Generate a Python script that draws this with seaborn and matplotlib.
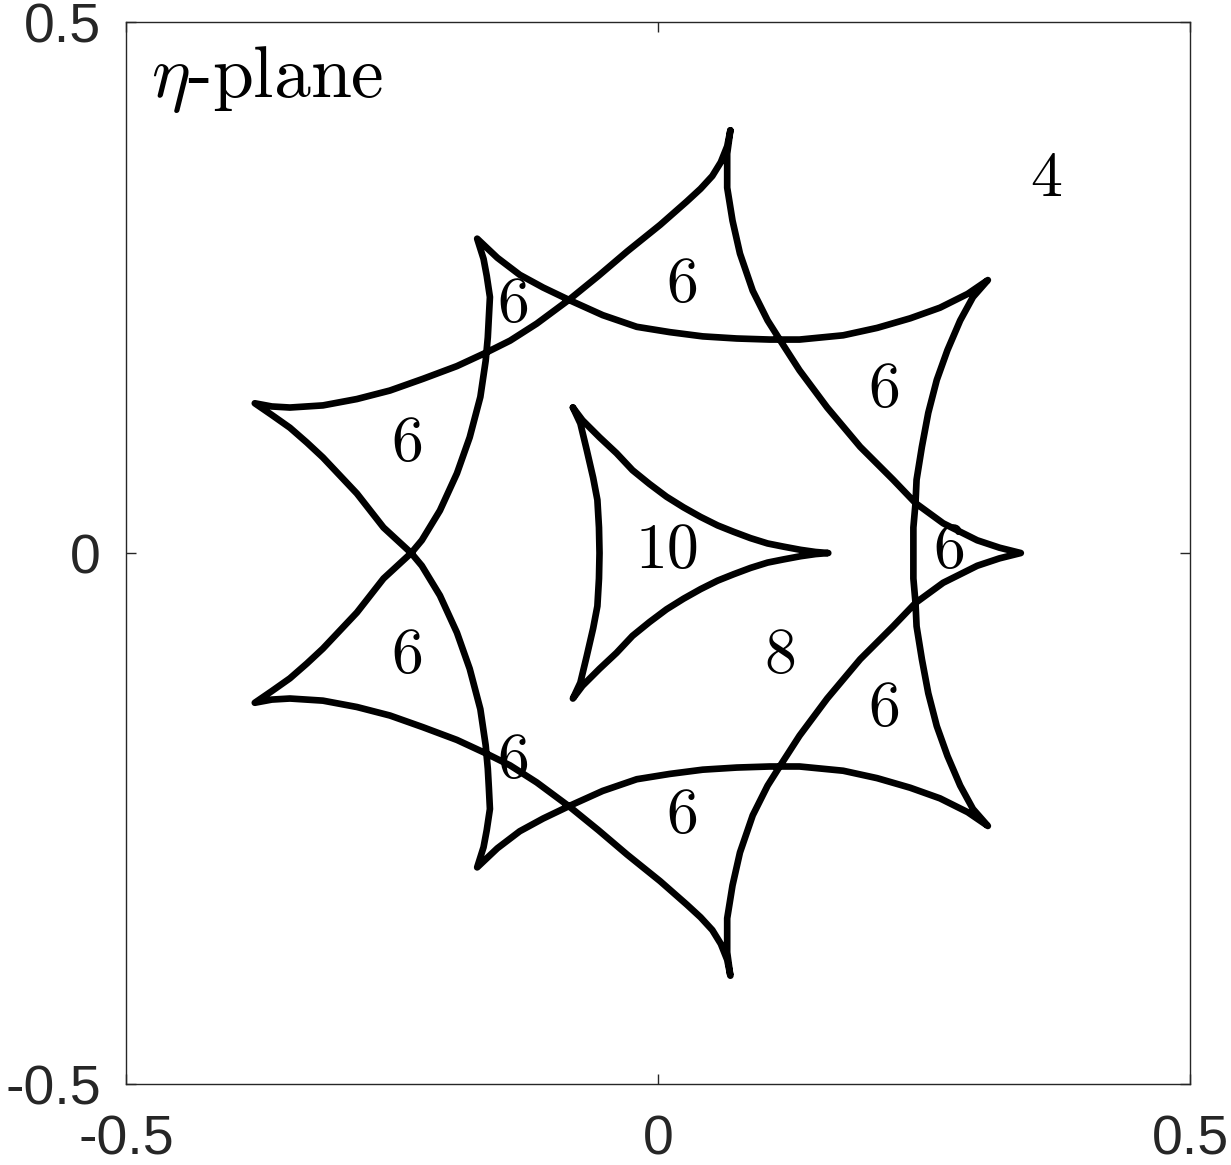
"""Caustic curves in the eta-plane with image counts per region."""

import matplotlib
matplotlib.use("Agg")
import matplotlib.pyplot as plt
import pandas as pd
import seaborn as sns

# outer 9-cusp caustic, one closed curve
outer_pts = [
    # top cusp -> upper left cusp
    (0.068, 0.398), (0.065, 0.383), (0.059, 0.368), (0.051, 0.355), (0.040, 0.343),
    (0.027, 0.331), (0.002, 0.309), (-0.029, 0.284), (-0.056, 0.261), (-0.083, 0.239),
    (-0.114, 0.216), (-0.139, 0.200), (-0.161, 0.189), (-0.189, 0.176), (-0.221, 0.164),
    (-0.252, 0.153), (-0.283, 0.145), (-0.315, 0.139), (-0.346, 0.137), (-0.363, 0.138),
    (-0.379, 0.141),
    # -> lower inner cusp
    (-0.363, 0.130), (-0.346, 0.118), (-0.330, 0.104), (-0.315, 0.090), (-0.299, 0.073),
    (-0.283, 0.056), (-0.258, 0.024), (-0.245, 0.012), (-0.232, 0.000), (-0.222, -0.012),
    (-0.205, -0.040), (-0.189, -0.075), (-0.177, -0.109), (-0.167, -0.147), (-0.162, -0.181),
    (-0.160, -0.203), (-0.159, -0.221), (-0.158, -0.241), (-0.161, -0.261), (-0.164, -0.277),
    (-0.170, -0.296),
    # -> lower right cusp
    (-0.151, -0.278), (-0.130, -0.262), (-0.108, -0.250), (-0.083, -0.238), (-0.052, -0.224),
    (-0.020, -0.213), (0.011, -0.208), (0.042, -0.204), (0.074, -0.202), (0.105, -0.201),
    (0.133, -0.201), (0.174, -0.205), (0.206, -0.212), (0.237, -0.221), (0.265, -0.231),
    (0.291, -0.244), (0.310, -0.257),
    # -> upper right cusp
    (0.296, -0.241), (0.284, -0.219), (0.272, -0.191), (0.262, -0.163), (0.254, -0.132),
    (0.248, -0.100), (0.243, -0.069), (0.242, -0.047), (0.240, -0.024), (0.240, 0.000),
    (0.240, 0.024), (0.242, 0.047), (0.243, 0.069), (0.248, 0.100), (0.254, 0.132),
    (0.262, 0.163), (0.272, 0.191), (0.284, 0.219), (0.296, 0.241), (0.310, 0.257),
    # -> upper inner cusp
    (0.291, 0.244), (0.265, 0.231), (0.237, 0.221), (0.206, 0.212), (0.174, 0.205),
    (0.133, 0.201), (0.105, 0.201), (0.074, 0.202), (0.042, 0.204), (0.011, 0.208),
    (-0.020, 0.213), (-0.052, 0.224), (-0.083, 0.238), (-0.108, 0.250), (-0.130, 0.262),
    (-0.151, 0.278), (-0.170, 0.296),
    # -> lower left cusp
    (-0.164, 0.277), (-0.161, 0.261), (-0.158, 0.241), (-0.159, 0.221), (-0.160, 0.203),
    (-0.162, 0.181), (-0.167, 0.147), (-0.177, 0.109), (-0.189, 0.075), (-0.205, 0.040),
    (-0.222, 0.012), (-0.232, 0.000), (-0.245, -0.012), (-0.258, -0.024), (-0.283, -0.056),
    (-0.299, -0.073), (-0.315, -0.090), (-0.330, -0.104), (-0.346, -0.118), (-0.363, -0.130),
    (-0.379, -0.141),
    # -> bottom cusp
    (-0.363, -0.138), (-0.346, -0.137), (-0.315, -0.139), (-0.283, -0.145), (-0.252, -0.153),
    (-0.221, -0.164), (-0.189, -0.176), (-0.161, -0.189), (-0.139, -0.200), (-0.114, -0.216),
    (-0.083, -0.239), (-0.056, -0.261), (-0.029, -0.284), (0.002, -0.309), (0.027, -0.331),
    (0.040, -0.343), (0.051, -0.355), (0.059, -0.368), (0.065, -0.383), (0.068, -0.398),
    # -> right cusp
    (0.065, -0.376), (0.065, -0.344), (0.070, -0.313), (0.077, -0.282), (0.089, -0.247),
    (0.103, -0.219), (0.115, -0.200), (0.133, -0.172), (0.159, -0.137), (0.190, -0.100),
    (0.221, -0.069), (0.242, -0.047), (0.268, -0.028), (0.300, -0.012), (0.321, -0.005),
    (0.341, 0.000),
    # -> back to top cusp
    (0.321, 0.005), (0.300, 0.012), (0.268, 0.028), (0.242, 0.047), (0.221, 0.069),
    (0.190, 0.100), (0.159, 0.137), (0.133, 0.172), (0.115, 0.200), (0.103, 0.219),
    (0.089, 0.247), (0.077, 0.282), (0.070, 0.313), (0.065, 0.344), (0.065, 0.376),
    (0.068, 0.398),
]

# inner 3-cusp caustic, closed
inner_pts = [
    (-0.080, 0.137), (-0.071, 0.125), (-0.055, 0.109), (-0.039, 0.094), (-0.024, 0.078),
    (-0.008, 0.065), (0.008, 0.053), (0.024, 0.043), (0.040, 0.034), (0.056, 0.026),
    (0.071, 0.020), (0.087, 0.014), (0.103, 0.009), (0.118, 0.006), (0.134, 0.003),
    (0.148, 0.001), (0.160, 0.000),
    (0.148, -0.001), (0.134, -0.003), (0.118, -0.006), (0.103, -0.009), (0.087, -0.014),
    (0.071, -0.020), (0.056, -0.026), (0.040, -0.034), (0.024, -0.043), (0.008, -0.053),
    (-0.008, -0.065), (-0.024, -0.078), (-0.039, -0.094), (-0.055, -0.109), (-0.071, -0.125),
    (-0.080, -0.137),
    (-0.073, -0.122), (-0.067, -0.097), (-0.061, -0.071), (-0.057, -0.050), (-0.0555, -0.024),
    (-0.055, 0.000), (-0.0555, 0.024), (-0.057, 0.050), (-0.061, 0.071), (-0.067, 0.097),
    (-0.073, 0.122), (-0.080, 0.137),
]

# number of images in each region
region_text = ["4", "6", "6", "6", "6", "10", "6", "8", "6", "6", "6", "6"]
region_x = [0.365, 0.023, -0.136, 0.213, -0.236, 0.009, 0.274, 0.115, -0.236, 0.213, -0.136, 0.023]
region_y = [0.351, 0.251, 0.233, 0.153, 0.102, 0.001, 0.001, -0.098, -0.098, -0.148, -0.197, -0.249]

tick_vals = [-0.5, 0, 0.5]
tick_text = ["-0.5", "0", "0.5"]

sns.set_style("ticks")
plt.rcParams["font.family"] = ["Liberation Sans", "DejaVu Sans"]
plt.rcParams["mathtext.fontset"] = "cm"
plt.rcParams["axes.unicode_minus"] = False

fig = plt.figure(figsize=(12.31, 11.65), dpi=100)
ax = fig.add_axes([0.1024, 0.0695, 0.8643, 0.9116])

outer = pd.DataFrame(outer_pts, columns=["x", "y"])
inner = pd.DataFrame(inner_pts, columns=["x", "y"])
for df in (outer, inner):
    sns.lineplot(data=df, x="x", y="y", sort=False, estimator=None, ax=ax,
                 color="black", linewidth=4.8, solid_joinstyle="round",
                 solid_capstyle="round")

for t, x, y in zip(region_text, region_x, region_y):
    ax.text(x, y, t, fontfamily="cmr10", fontsize=46, color="black",
            ha="center", va="center")

ax.text(-0.477, 0.429, r"$\eta$-plane", fontfamily="cmr10", fontsize=53,
        color="black", ha="left", va="baseline")

ax.set_xlim(-0.5, 0.5)
ax.set_ylim(-0.5, 0.5)
ax.set_xticks(tick_vals)
ax.set_yticks(tick_vals)
ax.set_xticklabels(tick_text)
ax.set_yticklabels(tick_text)
ax.set(xlabel="", ylabel="")

ax.tick_params(direction="in", length=7, width=1.0, color="#262626",
               labelcolor="#262626", labelsize=40, top=True, right=True)
ax.tick_params(axis="x", pad=22)
ax.tick_params(axis="y", pad=18)
for sp in ax.spines.values():
    sp.set_visible(True)
    sp.set_color("#262626")
    sp.set_linewidth(1.0)

fig.savefig("out.png", dpi=100)
